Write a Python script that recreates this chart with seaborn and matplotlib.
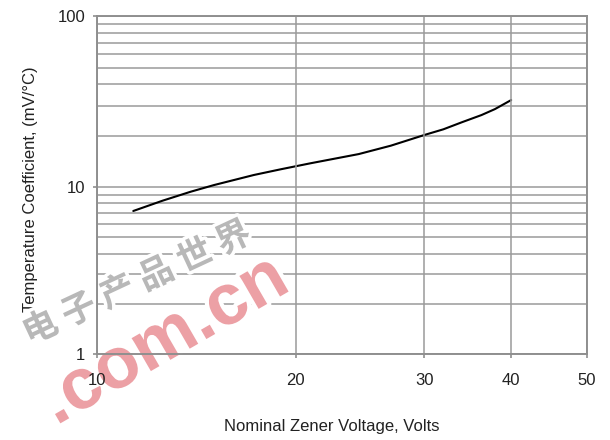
import numpy as np
import pandas as pd
import matplotlib
matplotlib.use("Agg")
import matplotlib.pyplot as plt
import matplotlib.patheffects as pe
from matplotlib.ticker import LogLocator, NullFormatter, FixedLocator, NullLocator
import seaborn as sns

# ---- data ----
voltage = [11.35, 12.57, 13.87, 15.05, 17.29, 18.99, 20.96, 24.4, 27.0, 30.0,
           31.95, 34.0, 36.25, 37.9, 40.0]
tempco = [7.21, 8.31, 9.41, 10.31, 11.80, 12.74, 13.81, 15.63, 17.5, 20.2,
          21.8, 24.0, 26.4, 28.6, 32.3]
x_ticks = [10, 20, 30, 40, 50]
x_tick_labels = ["10", "20", "30", "40", "50"]
y_ticks = [1, 10, 100]
y_tick_labels = ["1", "10", "100"]
x_label = "Nominal Zener Voltage, Volts"
y_label = "Temperature Coefficient, (mV/°C)"
wm_cn = "电 子 产 品 世 界"
wm_url = ".com.cn"

# printed (hand-drawn, nearly logarithmic) spacing of the original axes
X_TICK_POS = [0.0, 0.4053, 0.6680, 0.8452, 1.0]
Y_TICK_POS = [0.0, 0.4932, 1.0]

sns.set_theme(style="white")
plt.rcParams["font.family"] = ["Liberation Sans", "DejaVu Sans"]


def make_scale(ticks, pos):
    lt = np.log10(np.array(ticks, dtype=float))
    pt = np.array(pos, dtype=float)

    def fwd(x):
        lx = np.log10(np.clip(np.asarray(x, dtype=float), 1e-9, None))
        y = np.interp(lx, lt, pt)
        s0 = (pt[1] - pt[0]) / (lt[1] - lt[0])
        s1 = (pt[-1] - pt[-2]) / (lt[-1] - lt[-2])
        y = np.where(lx < lt[0], pt[0] + (lx - lt[0]) * s0, y)
        y = np.where(lx > lt[-1], pt[-1] + (lx - lt[-1]) * s1, y)
        return y

    def inv(y):
        y = np.asarray(y, dtype=float)
        lx = np.interp(y, pt, lt)
        s0 = (lt[1] - lt[0]) / (pt[1] - pt[0])
        s1 = (lt[-1] - lt[-2]) / (pt[-1] - pt[-2])
        lx = np.where(y < pt[0], lt[0] + (y - pt[0]) * s0, lx)
        lx = np.where(y > pt[-1], lt[-1] + (y - pt[-1]) * s1, lx)
        return 10 ** lx

    return fwd, inv


df = pd.DataFrame({"V": voltage, "TC": tempco})

fig = plt.figure(figsize=(6.1, 4.4), dpi=100)
ax = fig.add_axes([97 / 610, 1 - 354 / 440, 490 / 610, 338 / 440])

sns.lineplot(data=df, x="V", y="TC", ax=ax, color="black", linewidth=1.5, zorder=4)

ax.set_xscale("function", functions=make_scale(x_ticks, X_TICK_POS))
ax.set_yscale("function", functions=make_scale(y_ticks, Y_TICK_POS))
ax.set_xlim(10, 50)
ax.set_ylim(1, 100)

ax.xaxis.set_major_locator(FixedLocator(x_ticks))
ax.xaxis.set_minor_locator(NullLocator())
ax.set_xticklabels(x_tick_labels)
ax.yaxis.set_major_locator(FixedLocator(y_ticks))
ax.set_yticklabels(y_tick_labels)
ax.yaxis.set_minor_locator(LogLocator(base=10, subs=list(range(2, 10))))
ax.yaxis.set_minor_formatter(NullFormatter())

gcol = "#9a9a9a"
ax.grid(True, which="major", axis="both", color=gcol, linewidth=1.1)
ax.grid(True, which="minor", axis="y", color=gcol, linewidth=1.1)
for s in ax.spines.values():
    s.set_color("#8f8f8f")
    s.set_linewidth(1.4)
    s.set_zorder(12)

ax.tick_params(axis="both", which="major", length=3, width=1.2, color="#8f8f8f",
               labelsize=12, labelcolor="#222222", left=True, bottom=True)
ax.tick_params(axis="x", pad=11)
ax.tick_params(axis="y", pad=5.5)
ax.tick_params(axis="y", which="minor", length=0)

ax.set_xlabel(x_label, fontsize=12, color="#222222")
ax.set_ylabel(y_label, fontsize=12, color="#222222")
ax.xaxis.set_label_coords(0.48, -0.192)
ax.yaxis.set_label_coords(-0.121, 0.488)
ax.xaxis.set_zorder(11)

# watermark (drawn over the horizontal grid, under the x axis)
ax.text(137 / 610, 1 - 283 / 440, wm_cn, fontsize=25, color="#b8b8b8",
        rotation=25, ha="center", va="center", rotation_mode="anchor",
        family=["Noto Sans CJK SC", "DejaVu Sans"], fontweight="bold",
        path_effects=[pe.withStroke(linewidth=5, foreground="white")],
        transform=fig.transFigure, clip_on=False, zorder=10)
ax.text(165 / 610, 1 - 341 / 440, wm_url, fontsize=52, color="#eca0a5",
        rotation=30, ha="center", va="center", rotation_mode="anchor",
        family=["Liberation Sans", "DejaVu Sans"], fontweight="bold",
        path_effects=[pe.withStroke(linewidth=6, foreground="white")],
        transform=fig.transFigure, clip_on=False, zorder=10)

fig.savefig("out.png", dpi=100)
